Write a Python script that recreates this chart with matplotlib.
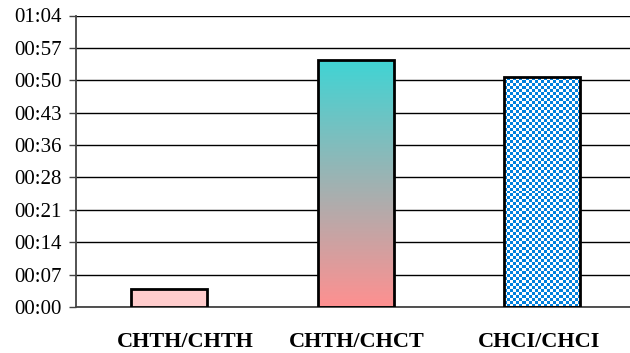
import numpy as np
import matplotlib.pyplot as plt
import matplotlib.transforms as mtransforms
from matplotlib.ticker import FuncFormatter

# data (seconds)
categories = ["CHTH/CHTH", "CHTH/CHCT", "CHCI/CHCI"]
times_sec = [4.0, 54.2, 50.4]
y_max = 64.0
y_ticks = list(np.linspace(0, y_max, 10))

fig = plt.figure(figsize=(6.3, 3.53), dpi=100)
ax = fig.add_axes([76 / 630, 1 - 307 / 353, 1 - 76 / 630, (307 - 15.5) / 353])

x = np.arange(len(categories))
width = 0.41
bars = ax.bar(x, times_sec, width=width, color=["#FFCCCC", "none", "none"],
              edgecolor="black", linewidth=2, zorder=3)

# gradient fill for the middle bar
b = bars[1]
top = np.array([0x40, 0xD4, 0xD4]) / 255
bot = np.array([0xFF, 0x90, 0x90]) / 255
t = np.linspace(0, 1, 256)[:, None]
grad = (top * (1 - t) + bot * t)[:, None, :]
im = ax.imshow(grad, extent=[b.get_x(), b.get_x() + width, 0, b.get_height()],
               aspect="auto", zorder=2, interpolation="bilinear")
im.set_clip_path(b)

# checkerboard fill for the third bar
b = bars[2]
nx, ny = 25, 77
cb = (np.add.outer(np.arange(ny), np.arange(nx)) % 2).astype(float)
rgb = np.where(cb[..., None] == 1, np.array([0x00, 0x80, 0xDD]) / 255, np.ones(3))
im2 = ax.imshow(rgb, extent=[b.get_x(), b.get_x() + width, 0, b.get_height()],
                aspect="auto", zorder=2, interpolation="nearest")
im2.set_clip_path(b)

ax.set_xlim(-0.5, -0.5 + 554 / 186.5)
ax.set_ylim(0, y_max)
ax.set_yticks(y_ticks)
ax.yaxis.set_major_formatter(FuncFormatter(
    lambda v, p: "%02d:%02d" % divmod(int(round(v)), 60)))
ax.grid(axis="y", color="black", linewidth=1, zorder=1)
ax.set_axisbelow(True)

ax.set_xticks(x)
ax.set_xticklabels(categories, fontfamily="Liberation Serif", fontweight="bold", fontsize=16)
ax.tick_params(axis="x", length=0, pad=18)
ax.tick_params(axis="y", length=5, width=1, color="#444444", pad=5)
for lab in ax.get_yticklabels():
    lab.set_fontfamily("Liberation Serif")
    lab.set_fontsize(15)

# the original labels are not quite centred under their bars
for lab, dx in zip(ax.get_xticklabels(), [16, 1, -3]):
    lab.set_transform(lab.get_transform() +
                      mtransforms.ScaledTranslation(dx / 100, 0, fig.dpi_scale_trans))

for s in ["top", "right"]:
    ax.spines[s].set_visible(False)
ax.spines["left"].set_color("#444444")
ax.spines["bottom"].set_color("#444444")
ax.spines["left"].set_linewidth(1.3)
ax.spines["bottom"].set_linewidth(1.3)

fig.savefig("out.png", dpi=100)
